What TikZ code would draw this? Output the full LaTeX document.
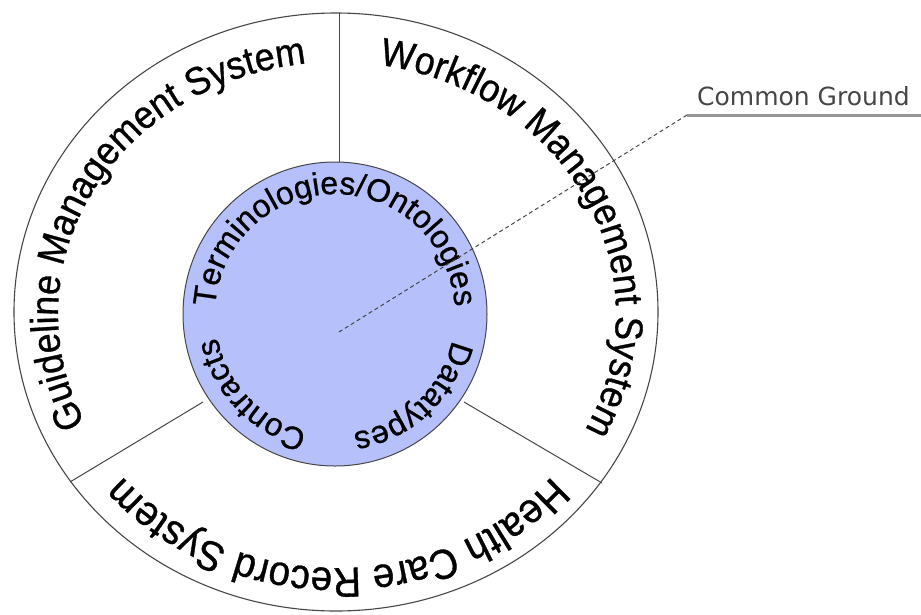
\documentclass[tikz,border=0pt]{standalone}
\usepackage{fontspec}
\setmainfont{Liberation Sans}
\newfontfamily\ringfont[FakeStretch=0.92, FakeBold=0.8]{Liberation Sans}
\newfontfamily\corefont[FakeBold=0.8]{Liberation Sans}
\newfontfamily\cgfont{DejaVu Sans}
\usetikzlibrary{decorations.text}
\definecolor{innerblue}{RGB}{182,192,250}
\definecolor{rimgray}{RGB}{70,70,70}
\definecolor{labelgray}{RGB}{70,70,70}
\definecolor{leadergray}{RGB}{150,150,150}
\begin{document}
\begin{tikzpicture}[x=1pt,y=1pt,
  outertext/.style={decorate, decoration={text along path, text align=center,
      text={|\ringfont\fontsize{39}{39}\selectfont|#1}}},
  bottomtext/.style={decorate, decoration={text along path, text align=center,
      text={|\ringfont\fontsize{42}{42}\selectfont|#1}}},
  innertext/.style={decorate, decoration={text along path, text align=center,
      text={|\corefont\fontsize{32}{32}\selectfont|#1}}},
  rim/.style={draw=rimgray, line width=1.1pt},
  divider/.style={draw=rimgray, line width=1pt},
  leader/.style={draw=labelgray, line width=1pt, dash pattern=on 4pt off 3pt},
  shelf/.style={draw=leadergray, line width=3pt}]
\useasboundingbox (0,0) rectangle (921,-614);
% centres
\coordinate (oc) at (336,-312);
\coordinate (ic) at (335,-314);
\coordinate (tc) at (337,-314);
% outer ring
\path[rim] (oc) ellipse [x radius=322pt, y radius=299pt];
% dividers
\coordinate (d1a) at (339,-13);  \coordinate (d1b) at (339,-163);
\coordinate (d2a) at (70,-482);  \coordinate (d2b) at (203,-402);
\coordinate (d3a) at (602,-483); \coordinate (d3b) at (464,-402);
\draw[divider] (d1a) -- (d1b);
\draw[divider] (d2a) -- (d2b);
\draw[divider] (d3a) -- (d3b);
% inner disc
\path[fill=innerblue, draw=rimgray, line width=1pt] (ic) circle[radius=152pt];
% outer texts
\path[outertext={Guideline Management System}]
  ([shift={(tc)}]221.5:279pt and 252pt) arc[start angle=221.5, end angle=81.5, x radius=279pt, y radius=252pt];
\path[outertext={Workflow Management System}]
  ([shift={(tc)}]96.5:279pt and 252pt) arc[start angle=96.5, end angle=-43.5, x radius=279pt, y radius=252pt];
\path[bottomtext={Health Care Record System}]
  ([shift={(tc)}]-15:279pt and 254pt) arc[start angle=-15, end angle=-165, x radius=279pt, y radius=254pt];
% inner texts
\path[innertext={Terminologies/Ontologies}]
  ([shift={(ic)}]188:120pt) arc[start angle=188, end angle=-8, radius=120pt];
\path[innertext={Datatypes}]
  ([shift={(ic)}]0:120pt) arc[start angle=0, end angle=-94, radius=120pt];
\path[innertext={Contracts}]
  ([shift={(ic)}]270:120pt) arc[start angle=270, end angle=178, radius=120pt];
% common ground leader
\coordinate (cg0) at (339,-332);
\coordinate (cg1) at (687,-115);
\coordinate (cg2) at (921,-115);
\draw[leader] (cg0) -- (cg1);
\draw[shelf] (cg1) -- (cg2);
\node[anchor=base west, inner sep=0pt, text=labelgray, font=\cgfont\fontsize{25}{25}\selectfont] (cgl) at (697,-105) {Common Ground};
\end{tikzpicture}
\end{document}
